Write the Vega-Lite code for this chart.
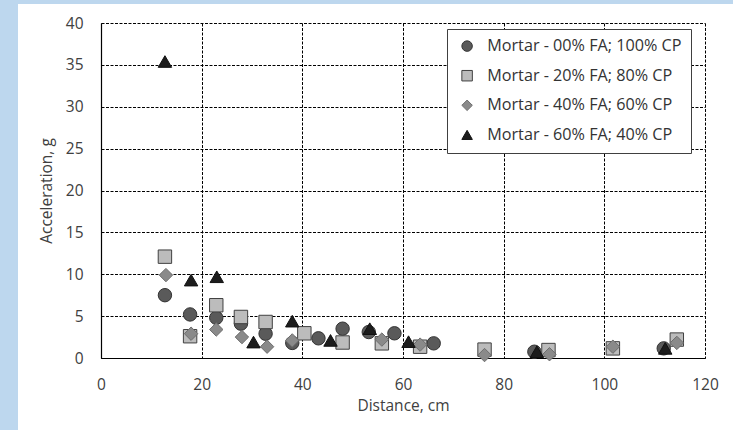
{
  "$schema": "https://vega.github.io/schema/vega-lite/v6.json",
  "width": 604,
  "height": 335,
  "autosize": {"type": "none"},
  "padding": {"left": 101, "top": 23, "right": 28, "bottom": 72},
  "background": "white",
  "config": {
    "view": {"stroke": null},
    "font": "Open Sans",
    "axis": {
      "labelFont": "Open Sans",
      "titleFont": "Open Sans",
      "labelFontSize": 15.5,
      "titleFontSize": 15.5,
      "labelColor": "#404040",
      "titleColor": "#404040",
      "titleFontWeight": "normal",
      "ticks": false,
      "grid": true,
      "labelFlush": false,
      "domainColor": "#000000",
      "domainWidth": 1.2,
      "gridColor": "#000000",
      "gridDash": [3, 1.5],
      "gridWidth": 1,
      "gridOpacity": 1
    },
    "legend": {
      "strokeColor": "#404040",
      "fillColor": "white",
      "padding": 9,
      "labelFont": "Open Sans",
      "labelFontSize": 16.2,
      "labelColor": "#333333",
      "labelLimit": 400,
      "symbolSize": 110,
      "symbolStrokeWidth": 1,
      "symbolOffset": 3,
      "labelOffset": 12,
      "rowPadding": 12.6
    }
  },
  "data": {
    "values": [
      {"mix": "Mortar - 00% FA; 100% CP", "distance": 12.7, "acceleration": 7.5},
      {"mix": "Mortar - 00% FA; 100% CP", "distance": 17.7, "acceleration": 5.2},
      {"mix": "Mortar - 00% FA; 100% CP", "distance": 22.9, "acceleration": 4.8},
      {"mix": "Mortar - 00% FA; 100% CP", "distance": 27.8, "acceleration": 4.1},
      {"mix": "Mortar - 00% FA; 100% CP", "distance": 32.7, "acceleration": 2.9},
      {"mix": "Mortar - 00% FA; 100% CP", "distance": 38.0, "acceleration": 1.8},
      {"mix": "Mortar - 00% FA; 100% CP", "distance": 43.2, "acceleration": 2.35},
      {"mix": "Mortar - 00% FA; 100% CP", "distance": 48.0, "acceleration": 3.5},
      {"mix": "Mortar - 00% FA; 100% CP", "distance": 53.2, "acceleration": 3.1},
      {"mix": "Mortar - 00% FA; 100% CP", "distance": 58.3, "acceleration": 2.95},
      {"mix": "Mortar - 00% FA; 100% CP", "distance": 66.1, "acceleration": 1.75},
      {"mix": "Mortar - 00% FA; 100% CP", "distance": 86.1, "acceleration": 0.75},
      {"mix": "Mortar - 00% FA; 100% CP", "distance": 111.8, "acceleration": 1.15},
      {"mix": "Mortar - 20% FA; 80% CP", "distance": 12.7, "acceleration": 12.1},
      {"mix": "Mortar - 20% FA; 80% CP", "distance": 17.7, "acceleration": 2.6},
      {"mix": "Mortar - 20% FA; 80% CP", "distance": 22.9, "acceleration": 6.3},
      {"mix": "Mortar - 20% FA; 80% CP", "distance": 27.8, "acceleration": 4.9},
      {"mix": "Mortar - 20% FA; 80% CP", "distance": 32.7, "acceleration": 4.3},
      {"mix": "Mortar - 20% FA; 80% CP", "distance": 40.4, "acceleration": 2.95},
      {"mix": "Mortar - 20% FA; 80% CP", "distance": 48.0, "acceleration": 1.85},
      {"mix": "Mortar - 20% FA; 80% CP", "distance": 55.8, "acceleration": 1.75},
      {"mix": "Mortar - 20% FA; 80% CP", "distance": 63.4, "acceleration": 1.35},
      {"mix": "Mortar - 20% FA; 80% CP", "distance": 76.2, "acceleration": 1.0},
      {"mix": "Mortar - 20% FA; 80% CP", "distance": 88.9, "acceleration": 0.95},
      {"mix": "Mortar - 20% FA; 80% CP", "distance": 101.7, "acceleration": 1.15},
      {"mix": "Mortar - 20% FA; 80% CP", "distance": 114.4, "acceleration": 2.2},
      {"mix": "Mortar - 40% FA; 60% CP", "distance": 12.9, "acceleration": 9.9},
      {"mix": "Mortar - 40% FA; 60% CP", "distance": 17.9, "acceleration": 2.9},
      {"mix": "Mortar - 40% FA; 60% CP", "distance": 22.9, "acceleration": 3.4},
      {"mix": "Mortar - 40% FA; 60% CP", "distance": 28.0, "acceleration": 2.5},
      {"mix": "Mortar - 40% FA; 60% CP", "distance": 33.0, "acceleration": 1.35},
      {"mix": "Mortar - 40% FA; 60% CP", "distance": 38.0, "acceleration": 2.1},
      {"mix": "Mortar - 40% FA; 60% CP", "distance": 55.8, "acceleration": 2.2},
      {"mix": "Mortar - 40% FA; 60% CP", "distance": 63.4, "acceleration": 1.6},
      {"mix": "Mortar - 40% FA; 60% CP", "distance": 76.2, "acceleration": 0.35},
      {"mix": "Mortar - 40% FA; 60% CP", "distance": 89.1, "acceleration": 0.45},
      {"mix": "Mortar - 40% FA; 60% CP", "distance": 101.7, "acceleration": 1.35},
      {"mix": "Mortar - 40% FA; 60% CP", "distance": 114.4, "acceleration": 1.8},
      {"mix": "Mortar - 60% FA; 40% CP", "distance": 12.7, "acceleration": 35.4},
      {"mix": "Mortar - 60% FA; 40% CP", "distance": 17.9, "acceleration": 9.3},
      {"mix": "Mortar - 60% FA; 40% CP", "distance": 23.0, "acceleration": 9.7},
      {"mix": "Mortar - 60% FA; 40% CP", "distance": 30.3, "acceleration": 1.9},
      {"mix": "Mortar - 60% FA; 40% CP", "distance": 38.0, "acceleration": 4.4},
      {"mix": "Mortar - 60% FA; 40% CP", "distance": 45.6, "acceleration": 2.1},
      {"mix": "Mortar - 60% FA; 40% CP", "distance": 53.4, "acceleration": 3.5},
      {"mix": "Mortar - 60% FA; 40% CP", "distance": 61.1, "acceleration": 1.95},
      {"mix": "Mortar - 60% FA; 40% CP", "distance": 86.6, "acceleration": 0.75},
      {"mix": "Mortar - 60% FA; 40% CP", "distance": 112.1, "acceleration": 1.15}
    ]
  },
  "layer": [
    {
      "mark": {"type": "rect", "fill": "#bdd7ee", "clip": false},
      "encoding": {
        "x": {"datum": -22, "type": "quantitative", "scale": {"domain": [0, 120], "nice": false}},
        "x2": {"datum": -16.5},
        "y": {"datum": 46, "type": "quantitative", "scale": {"domain": [0, 40], "nice": false}},
        "y2": {"datum": -10}
      }
    },
    {
      "mark": {"type": "rect", "fill": "#bdd7ee", "clip": false},
      "encoding": {
        "x": {"datum": -22, "type": "quantitative"},
        "x2": {"datum": 128},
        "y": {"datum": 46, "type": "quantitative"},
        "y2": {"datum": 42.27}
      }
    },
    {
      "mark": {"type": "point", "filled": true, "opacity": 1, "strokeWidth": 1, "size": 180},
      "encoding": {
        "x": {
          "field": "distance",
          "type": "quantitative",
          "title": "Distance, cm",
          "scale": {"domain": [0, 120], "nice": false},
          "axis": {"values": [0, 20, 40, 60, 80, 100, 120], "labelPadding": 19, "titlePadding": 6, "grid": true}
        },
        "y": {
          "field": "acceleration",
          "type": "quantitative",
          "title": "Acceleration, g",
          "scale": {"domain": [0, 40], "nice": false},
          "axis": {"values": [0, 5, 10, 15, 20, 25, 30, 35, 40], "labelPadding": 18, "titlePadding": 11, "grid": true}
        },
        "shape": {
          "field": "mix",
          "type": "nominal",
          "title": null,
          "scale": {"range": ["circle", "square", "diamond", "triangle-up"]},
          "legend": {"orient": "none", "legendX": 346, "legendY": 6}
        },
        "fill": {
          "field": "mix",
          "type": "nominal",
          "title": null,
          "scale": {"range": ["#5a5a5a", "#bcbcbc", "#8a8a8a", "#1c1c1c"]},
          "legend": {"orient": "none", "legendX": 346, "legendY": 6}
        },
        "stroke": {
          "field": "mix",
          "type": "nominal",
          "title": null,
          "scale": {"range": ["#333333", "#404040", "#6e6e6e", "#111111"]},
          "legend": {"orient": "none", "legendX": 346, "legendY": 6}
        }
      }
    }
  ]
}
